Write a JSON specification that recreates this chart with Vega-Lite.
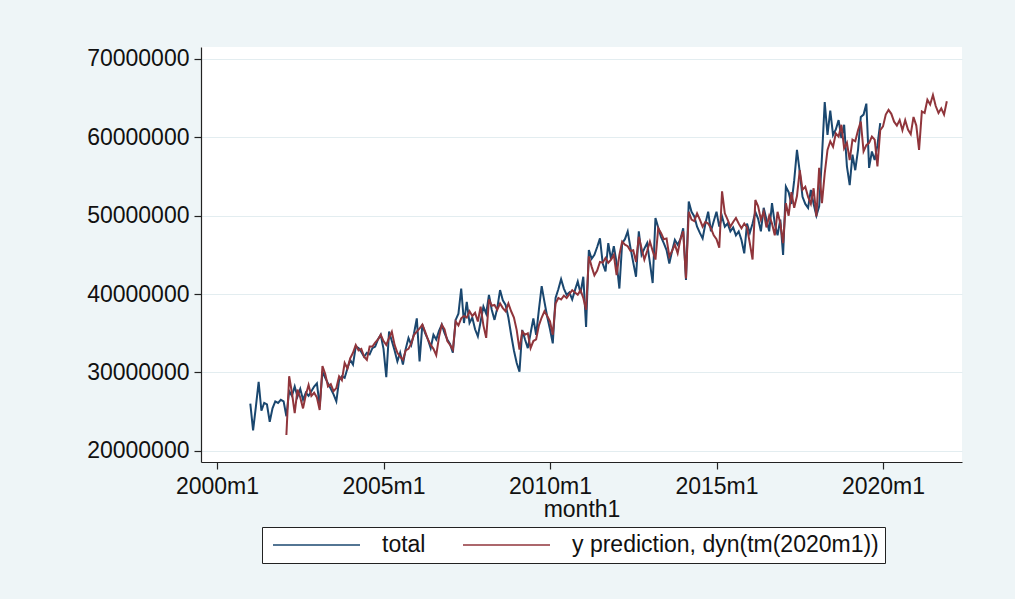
{
  "$schema": "https://vega.github.io/schema/vega-lite/v6.json",
  "width": 761,
  "height": 415,
  "autosize": {"type": "none"},
  "padding": {"left": 201, "top": 47, "right": 53, "bottom": 137},
  "background": "#eef5f7",
  "config": {
    "font": "Liberation Sans",
    "view": {"fill": "white", "stroke": null},
    "axis": {
      "domainColor": "#222222",
      "domainWidth": 1.2,
      "tickColor": "#222222",
      "tickWidth": 1.2,
      "tickSize": 7,
      "labelFontSize": 23,
      "labelColor": "#111111",
      "titleFontSize": 23,
      "titleFontWeight": "normal",
      "titleColor": "#111111",
      "labelFlush": false,
      "labelOverlap": false
    }
  },
  "encoding": {
    "x": {
      "field": "m",
      "type": "quantitative",
      "scale": {"domain": [-5.77, 268.47], "nice": false, "zero": false},
      "axis": {
        "values": [0, 60, 120, 180, 240],
        "labelExpr": "(2000 + datum.value / 12) + 'm1'",
        "labelPadding": 6,
        "grid": false,
        "title": "month1",
        "titlePadding": 0
      }
    },
    "y": {
      "field": "v",
      "type": "quantitative",
      "scale": {"domain": [18560000, 71530000], "nice": false, "zero": false},
      "axis": {
        "values": [20000000, 30000000, 40000000, 50000000, 60000000, 70000000],
        "format": "d",
        "labelPadding": 5,
        "grid": true,
        "gridColor": "#e3edf0",
        "gridWidth": 1,
        "title": null
      }
    }
  },
  "layer": [
    {
      "data": {"values": [
        {"m":12,"v":26000000},{"m":13,"v":22600000},{"m":14,"v":25600000},{"m":15,"v":28800000},{"m":16,"v":25100000},{"m":17,"v":26100000},
        {"m":18,"v":25900000},{"m":19,"v":23700000},{"m":20,"v":25400000},{"m":21,"v":26300000},{"m":22,"v":26100000},{"m":23,"v":26500000},
        {"m":24,"v":26300000},{"m":25,"v":24400000},{"m":26,"v":27600000},{"m":27,"v":27000000},{"m":28,"v":28200000},{"m":29,"v":26900000},
        {"m":30,"v":27900000},{"m":31,"v":26500000},{"m":32,"v":27400000},{"m":33,"v":27000000},{"m":34,"v":27600000},{"m":35,"v":28200000},
        {"m":36,"v":28600000},{"m":37,"v":25700000},{"m":38,"v":30100000},{"m":39,"v":29300000},{"m":40,"v":28600000},{"m":41,"v":27900000},
        {"m":42,"v":27200000},{"m":43,"v":26300000},{"m":44,"v":29000000},{"m":45,"v":29500000},{"m":46,"v":29300000},{"m":47,"v":30500000},
        {"m":48,"v":31600000},{"m":49,"v":31000000},{"m":50,"v":33300000},{"m":51,"v":33100000},{"m":52,"v":32600000},{"m":53,"v":32000000},
        {"m":54,"v":32500000},{"m":55,"v":32300000},{"m":56,"v":33100000},{"m":57,"v":33300000},{"m":58,"v":34200000},{"m":59,"v":34800000},
        {"m":60,"v":33000000},{"m":61,"v":29400000},{"m":62,"v":35200000},{"m":63,"v":34000000},{"m":64,"v":32800000},{"m":65,"v":31400000},
        {"m":66,"v":32500000},{"m":67,"v":31000000},{"m":68,"v":33000000},{"m":69,"v":34400000},{"m":70,"v":33500000},{"m":71,"v":35000000},
        {"m":72,"v":36900000},{"m":73,"v":31400000},{"m":74,"v":36100000},{"m":75,"v":35000000},{"m":76,"v":34200000},{"m":77,"v":33100000},
        {"m":78,"v":34800000},{"m":79,"v":34200000},{"m":80,"v":35300000},{"m":81,"v":36100000},{"m":82,"v":35000000},{"m":83,"v":34200000},
        {"m":84,"v":33600000},{"m":85,"v":32500000},{"m":86,"v":36700000},{"m":87,"v":37500000},{"m":88,"v":40700000},{"m":89,"v":36300000},
        {"m":90,"v":39000000},{"m":91,"v":36300000},{"m":92,"v":37000000},{"m":93,"v":35500000},{"m":94,"v":34600000},{"m":95,"v":36500000},
        {"m":96,"v":38400000},{"m":97,"v":37500000},{"m":98,"v":39900000},{"m":99,"v":38000000},{"m":100,"v":36700000},{"m":101,"v":38200000},
        {"m":102,"v":40500000},{"m":103,"v":39200000},{"m":104,"v":38600000},{"m":105,"v":37000000},{"m":106,"v":34800000},{"m":107,"v":32800000},
        {"m":108,"v":31200000},{"m":109,"v":30100000},{"m":110,"v":35400000},{"m":111,"v":34200000},{"m":112,"v":33100000},{"m":113,"v":35000000},
        {"m":114,"v":36900000},{"m":115,"v":34800000},{"m":116,"v":38000000},{"m":117,"v":41000000},{"m":118,"v":39000000},{"m":119,"v":37100000},
        {"m":120,"v":35500000},{"m":121,"v":33700000},{"m":122,"v":39500000},{"m":123,"v":40600000},{"m":124,"v":41900000},{"m":125,"v":40700000},
        {"m":126,"v":39900000},{"m":127,"v":40200000},{"m":128,"v":39300000},{"m":129,"v":40500000},{"m":130,"v":41600000},{"m":131,"v":40100000},
        {"m":132,"v":42200000},{"m":133,"v":35800000},{"m":134,"v":45600000},{"m":135,"v":44500000},{"m":136,"v":45000000},{"m":137,"v":46000000},
        {"m":138,"v":47100000},{"m":139,"v":43900000},{"m":140,"v":42900000},{"m":141,"v":46500000},{"m":142,"v":44400000},{"m":143,"v":46100000},
        {"m":144,"v":44000000},{"m":145,"v":40700000},{"m":146,"v":46500000},{"m":147,"v":47000000},{"m":148,"v":48000000},{"m":149,"v":45900000},
        {"m":150,"v":44000000},{"m":151,"v":42200000},{"m":152,"v":48000000},{"m":153,"v":45000000},{"m":154,"v":45800000},{"m":155,"v":46500000},
        {"m":156,"v":44000000},{"m":157,"v":41400000},{"m":158,"v":49700000},{"m":159,"v":48500000},{"m":160,"v":47300000},{"m":161,"v":46500000},
        {"m":162,"v":45600000},{"m":163,"v":43900000},{"m":164,"v":45500000},{"m":165,"v":46900000},{"m":166,"v":46300000},{"m":167,"v":47000000},
        {"m":168,"v":48400000},{"m":169,"v":41800000},{"m":170,"v":51800000},{"m":171,"v":50500000},{"m":172,"v":49900000},{"m":173,"v":48600000},
        {"m":174,"v":47800000},{"m":175,"v":47100000},{"m":176,"v":49000000},{"m":177,"v":50500000},{"m":178,"v":48000000},{"m":179,"v":49300000},
        {"m":180,"v":50500000},{"m":181,"v":48600000},{"m":182,"v":49900000},{"m":183,"v":48600000},{"m":184,"v":49000000},{"m":185,"v":48000000},
        {"m":186,"v":48500000},{"m":187,"v":47500000},{"m":188,"v":48000000},{"m":189,"v":46900000},{"m":190,"v":45200000},{"m":191,"v":49000000},
        {"m":192,"v":47800000},{"m":193,"v":49000000},{"m":194,"v":50500000},{"m":195,"v":49600000},{"m":196,"v":48000000},{"m":197,"v":51000000},
        {"m":198,"v":49500000},{"m":199,"v":48000000},{"m":200,"v":51600000},{"m":201,"v":49000000},{"m":202,"v":47500000},{"m":203,"v":49500000},
        {"m":204,"v":45000000},{"m":205,"v":53700000},{"m":206,"v":53000000},{"m":207,"v":51500000},{"m":208,"v":54500000},{"m":209,"v":58400000},
        {"m":210,"v":55600000},{"m":211,"v":52400000},{"m":212,"v":51500000},{"m":213,"v":51000000},{"m":214,"v":53300000},{"m":215,"v":51500000},
        {"m":216,"v":50000000},{"m":217,"v":51200000},{"m":218,"v":57500000},{"m":219,"v":64500000},{"m":220,"v":60300000},{"m":221,"v":63400000},
        {"m":222,"v":60300000},{"m":223,"v":61000000},{"m":224,"v":62200000},{"m":225,"v":59900000},{"m":226,"v":61600000},{"m":227,"v":56300000},
        {"m":228,"v":53900000},{"m":229,"v":57800000},{"m":230,"v":55800000},{"m":231,"v":58400000},{"m":232,"v":62600000},{"m":233,"v":62900000},
        {"m":234,"v":64300000},{"m":235,"v":56100000},{"m":236,"v":58200000},{"m":237,"v":57100000},{"m":238,"v":59000000},{"m":239,"v":61800000}
      ]},
      "mark": {"type": "line", "strokeWidth": 2},
      "encoding": {
        "color": {
          "datum": "total",
          "type": "nominal",
          "scale": {"domain": ["total", "y prediction, dyn(tm(2020m1))"], "range": ["#1a476f", "#90353b"]},
          "legend": {
            "title": null,
            "orient": "none",
            "legendX": 61,
            "legendY": 480,
            "direction": "horizontal",
            "symbolType": "stroke",
            "symbolSize": 7569,
            "symbolStrokeWidth": 1.5,
            "symbolOffset": 4,
            "clipHeight": 24,
            "labelFontSize": 23,
            "labelColor": "#111111",
            "labelOffset": 21,
            "labelLimit": 600,
            "columnPadding": 32,
            "fillColor": "white",
            "strokeColor": "#222222",
            "padding": 6
          }
        }
      }
    },
    {
      "data": {"values": [
        {"m":25,"v":22000000},{"m":26,"v":29500000},{"m":27,"v":27400000},{"m":28,"v":24800000},{"m":29,"v":27800000},{"m":30,"v":26800000},
        {"m":31,"v":25400000},{"m":32,"v":27100000},{"m":33,"v":28400000},{"m":34,"v":27000000},{"m":35,"v":27400000},{"m":36,"v":26800000},
        {"m":37,"v":25200000},{"m":38,"v":30800000},{"m":39,"v":29800000},{"m":40,"v":28200000},{"m":41,"v":28500000},{"m":42,"v":27600000},
        {"m":43,"v":28000000},{"m":44,"v":29500000},{"m":45,"v":29000000},{"m":46,"v":31200000},{"m":47,"v":30500000},{"m":48,"v":31800000},
        {"m":49,"v":32500000},{"m":50,"v":33500000},{"m":51,"v":32800000},{"m":52,"v":33000000},{"m":53,"v":32000000},{"m":54,"v":31600000},
        {"m":55,"v":33300000},{"m":56,"v":33300000},{"m":57,"v":33800000},{"m":58,"v":34200000},{"m":59,"v":34800000},{"m":60,"v":34000000},
        {"m":61,"v":33500000},{"m":62,"v":34400000},{"m":63,"v":35200000},{"m":64,"v":33500000},{"m":65,"v":32500000},{"m":66,"v":32000000},
        {"m":67,"v":31600000},{"m":68,"v":32800000},{"m":69,"v":33000000},{"m":70,"v":33700000},{"m":71,"v":34800000},{"m":72,"v":35200000},
        {"m":73,"v":35600000},{"m":74,"v":36100000},{"m":75,"v":35200000},{"m":76,"v":34200000},{"m":77,"v":33500000},{"m":78,"v":33000000},
        {"m":79,"v":32200000},{"m":80,"v":34500000},{"m":81,"v":36100000},{"m":82,"v":35500000},{"m":83,"v":34000000},{"m":84,"v":33500000},
        {"m":85,"v":32900000},{"m":86,"v":36500000},{"m":87,"v":36000000},{"m":88,"v":36900000},{"m":89,"v":37200000},{"m":90,"v":37000000},
        {"m":91,"v":37800000},{"m":92,"v":37200000},{"m":93,"v":37600000},{"m":94,"v":36500000},{"m":95,"v":38400000},{"m":96,"v":36000000},
        {"m":97,"v":34400000},{"m":98,"v":39300000},{"m":99,"v":38500000},{"m":100,"v":38600000},{"m":101,"v":38000000},{"m":102,"v":38800000},
        {"m":103,"v":38200000},{"m":104,"v":37800000},{"m":105,"v":38800000},{"m":106,"v":37800000},{"m":107,"v":37000000},{"m":108,"v":35400000},
        {"m":109,"v":32900000},{"m":110,"v":35200000},{"m":111,"v":34800000},{"m":112,"v":35000000},{"m":113,"v":33100000},{"m":114,"v":34000000},
        {"m":115,"v":34200000},{"m":116,"v":36000000},{"m":117,"v":37000000},{"m":118,"v":37800000},{"m":119,"v":37200000},{"m":120,"v":36500000},
        {"m":121,"v":34800000},{"m":122,"v":38800000},{"m":123,"v":39500000},{"m":124,"v":39300000},{"m":125,"v":39800000},{"m":126,"v":39500000},
        {"m":127,"v":40000000},{"m":128,"v":40500000},{"m":129,"v":40200000},{"m":130,"v":39900000},{"m":131,"v":40500000},{"m":132,"v":39500000},
        {"m":133,"v":38000000},{"m":134,"v":44800000},{"m":135,"v":43500000},{"m":136,"v":42400000},{"m":137,"v":43000000},{"m":138,"v":44100000},
        {"m":139,"v":44000000},{"m":140,"v":44600000},{"m":141,"v":44000000},{"m":142,"v":44400000},{"m":143,"v":45000000},{"m":144,"v":42400000},
        {"m":145,"v":45000000},{"m":146,"v":46700000},{"m":147,"v":46300000},{"m":148,"v":46100000},{"m":149,"v":45500000},{"m":150,"v":45600000},
        {"m":151,"v":44100000},{"m":152,"v":47300000},{"m":153,"v":45800000},{"m":154,"v":44400000},{"m":155,"v":45500000},{"m":156,"v":46700000},
        {"m":157,"v":45500000},{"m":158,"v":44400000},{"m":159,"v":48400000},{"m":160,"v":47800000},{"m":161,"v":47000000},{"m":162,"v":47100000},
        {"m":163,"v":44800000},{"m":164,"v":45500000},{"m":165,"v":46300000},{"m":166,"v":45200000},{"m":167,"v":47000000},{"m":168,"v":48000000},
        {"m":169,"v":42000000},{"m":170,"v":50500000},{"m":171,"v":49500000},{"m":172,"v":49300000},{"m":173,"v":50300000},{"m":174,"v":49500000},
        {"m":175,"v":48600000},{"m":176,"v":49200000},{"m":177,"v":49000000},{"m":178,"v":48400000},{"m":179,"v":47500000},{"m":180,"v":47000000},
        {"m":181,"v":45900000},{"m":182,"v":53100000},{"m":183,"v":50300000},{"m":184,"v":49500000},{"m":185,"v":48600000},{"m":186,"v":49200000},
        {"m":187,"v":49700000},{"m":188,"v":49000000},{"m":189,"v":48400000},{"m":190,"v":49000000},{"m":191,"v":48500000},{"m":192,"v":46500000},
        {"m":193,"v":44400000},{"m":194,"v":52000000},{"m":195,"v":51200000},{"m":196,"v":49500000},{"m":197,"v":50500000},{"m":198,"v":48500000},
        {"m":199,"v":50000000},{"m":200,"v":49000000},{"m":201,"v":47500000},{"m":202,"v":50500000},{"m":203,"v":49000000},{"m":204,"v":46500000},
        {"m":205,"v":51600000},{"m":206,"v":50000000},{"m":207,"v":53000000},{"m":208,"v":51000000},{"m":209,"v":52500000},{"m":210,"v":55800000},
        {"m":211,"v":53300000},{"m":212,"v":53700000},{"m":213,"v":52400000},{"m":214,"v":51500000},{"m":215,"v":53500000},{"m":216,"v":49900000},
        {"m":217,"v":56100000},{"m":218,"v":51600000},{"m":219,"v":55400000},{"m":220,"v":58400000},{"m":221,"v":59500000},{"m":222,"v":58800000},
        {"m":223,"v":60500000},{"m":224,"v":60100000},{"m":225,"v":61600000},{"m":226,"v":58600000},{"m":227,"v":59300000},{"m":228,"v":57100000},
        {"m":229,"v":59700000},{"m":230,"v":59500000},{"m":231,"v":60900000},{"m":232,"v":62000000},{"m":233,"v":58200000},{"m":234,"v":59000000},
        {"m":235,"v":59300000},{"m":236,"v":60100000},{"m":237,"v":59700000},{"m":238,"v":56300000},{"m":239,"v":60900000},{"m":240,"v":61400000},
        {"m":241,"v":62900000},{"m":242,"v":63500000},{"m":243,"v":63000000},{"m":244,"v":62000000},{"m":245,"v":61500000},{"m":246,"v":62200000},
        {"m":247,"v":60900000},{"m":248,"v":62200000},{"m":249,"v":61000000},{"m":250,"v":60400000},{"m":251,"v":62600000},{"m":252,"v":61500000},
        {"m":253,"v":58400000},{"m":254,"v":63300000},{"m":255,"v":63100000},{"m":256,"v":64800000},{"m":257,"v":64200000},{"m":258,"v":65400000},
        {"m":259,"v":64000000},{"m":260,"v":63100000},{"m":261,"v":63700000},{"m":262,"v":62900000},{"m":263,"v":64600000}
      ]},
      "mark": {"type": "line", "strokeWidth": 2},
      "encoding": {
        "color": {
          "datum": "y prediction, dyn(tm(2020m1))",
          "type": "nominal"
        }
      }
    }
  ]
}
